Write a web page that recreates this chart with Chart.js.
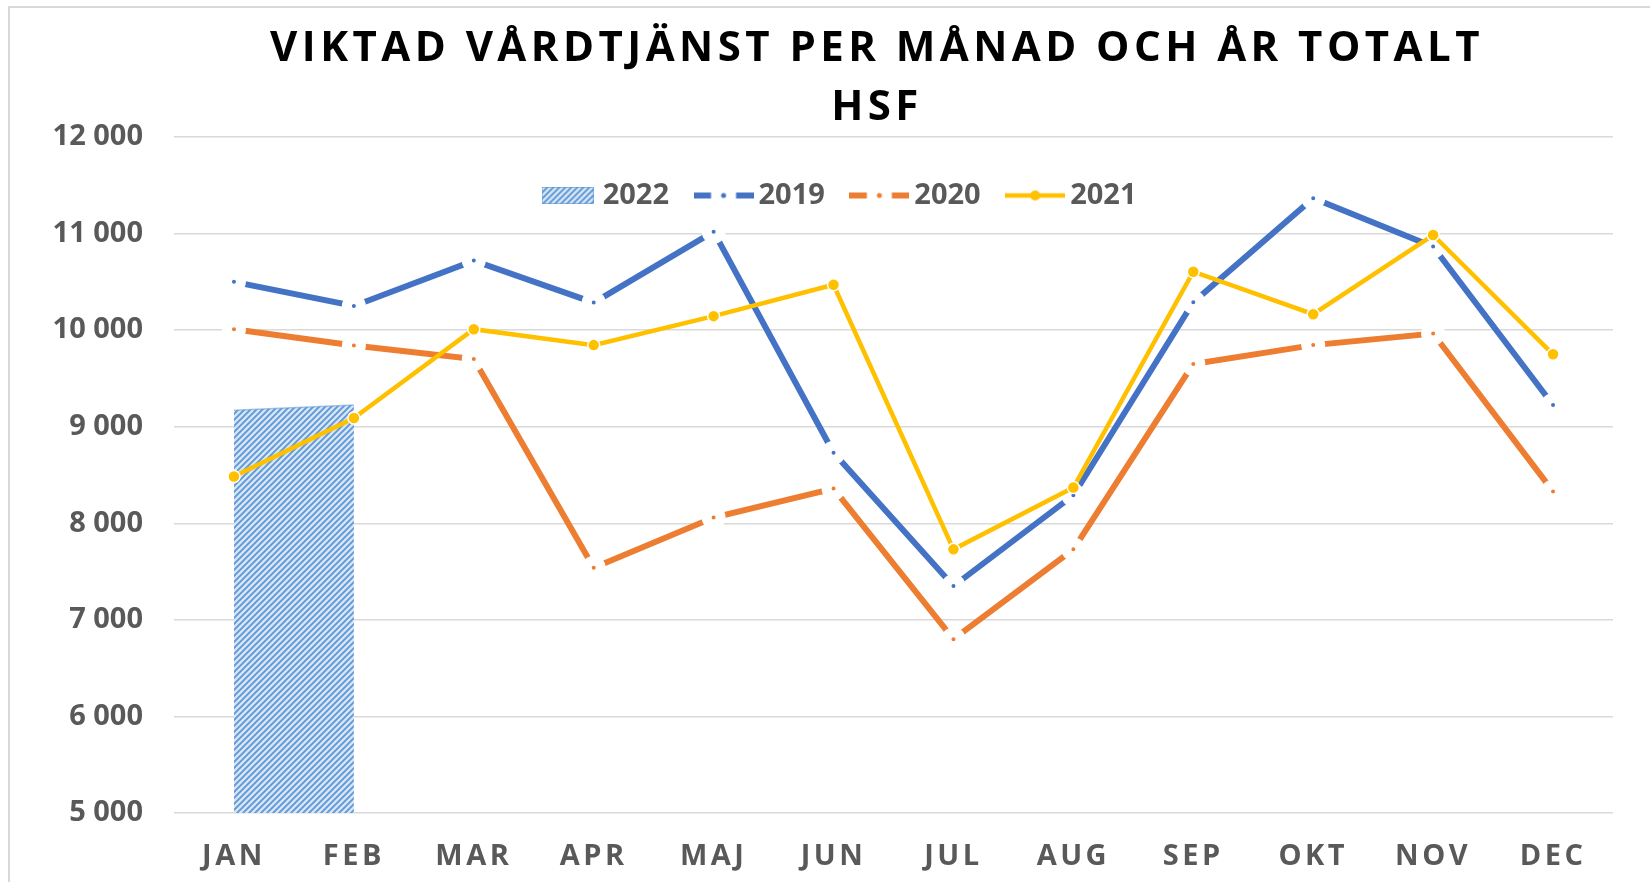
<!DOCTYPE html>
<html><head><meta charset="utf-8">
<script src="https://cdn.jsdelivr.net/npm/chart.js@4.4.1/dist/chart.umd.min.js"></script>
<style>
html,body{margin:0;padding:0;background:#fff;overflow:hidden;}
#wrap{position:relative;width:1650px;height:882px;overflow:hidden;}
#frame{position:absolute;left:8px;top:6px;width:3000px;height:3000px;border-left:2px solid #D9D9D9;border-top:2px solid #D9D9D9;}
canvas{position:absolute;left:0;top:0;}
</style></head><body>
<div id="wrap"><div id="frame"></div><canvas id="c" width="1650" height="882"></canvas></div>
<script>
// ---- data ----
const titleLines = ['VIKTAD VÅRDTJÄNST PER MÅNAD OCH ÅR TOTALT', 'HSF'];
const months = ['JAN','FEB','MAR','APR','MAJ','JUN','JUL','AUG','SEP','OKT','NOV','DEC'];
const seriesNames = ['2022','2019','2020','2021'];
const v2022 = [9170, 9225, null, null, null, null, null, null, null, null, null, null];
const v2019 = [10500, 10250, 10720, 10285, 11020, 8730, 7350, 8290, 10290, 11365, 10865, 9225];
const v2020 = [10010, 9840, 9700, 7540, 8060, 8360, 6800, 7730, 9650, 9845, 9965, 8330];
const v2021 = [8485, 9090, 10010, 9845, 10145, 10470, 7730, 8370, 10605, 10165, 10985, 9750];
const yMin = 5000, yMax = 12000, yStep = 1000;

// ---- styles ----
const FONT = "'Open Sans', 'DejaVu Sans', sans-serif";
const C2019 = '#4472C4', C2020 = '#ED7D31', C2021 = '#FFC000';
const TICK = '#595959';

function hatchFor(g) {
  const t = document.createElement('canvas'); t.width = 6; t.height = 6;
  const h = t.getContext('2d');
  h.fillStyle = '#D5E5F5'; h.fillRect(0,0,6,6);
  h.strokeStyle = '#5F98D6'; h.lineWidth = 1.9;
  h.beginPath(); h.moveTo(0,6); h.lineTo(6,0); h.moveTo(-3,3); h.lineTo(3,-3); h.moveTo(3,9); h.lineTo(9,3); h.stroke();
  return g.createPattern(t, 'repeat');
}
const hatch = hatchFor(document.createElement('canvas').getContext('2d'));

function iconArea() {
  const c = document.createElement('canvas'); c.width = 52; c.height = 17;
  const g = c.getContext('2d');
  g.fillStyle = hatchFor(g); g.fillRect(0,0,52,17);
  g.strokeStyle = 'rgba(91,155,213,0.6)'; g.lineWidth = 1; g.strokeRect(0.5,0.5,51,16);
  return c;
}
function iconDashDot(color) {
  const c = document.createElement('canvas'); c.width = 60; c.height = 20;
  const g = c.getContext('2d');
  g.strokeStyle = color; g.lineWidth = 6; g.lineCap = 'butt';
  g.beginPath(); g.moveTo(0,10); g.lineTo(17.5,10); g.moveTo(42.5,10); g.lineTo(60,10); g.stroke();
  g.fillStyle = color; g.beginPath(); g.arc(30,10,2.5,0,Math.PI*2); g.fill();
  return c;
}
function iconMarkerLine(color) {
  const c = document.createElement('canvas'); c.width = 60; c.height = 14;
  const g = c.getContext('2d');
  g.strokeStyle = color; g.lineWidth = 4.5;
  g.beginPath(); g.moveTo(0,7); g.lineTo(60,7); g.stroke();
  g.fillStyle = color; g.beginPath(); g.arc(30,7,5,0,Math.PI*2); g.fill();
  return c;
}
const legendIcons = [iconArea(), iconDashDot(C2019), iconDashDot(C2020), iconMarkerLine(C2021)];

function fmt(v) { return String(v).replace(/\B(?=(\d{3})+(?!\d))/g, ' '); }

const patcher = {
  id: 'patcher',
  beforeDraw(chart) {
    const tb = chart.titleBlock;
    if (tb && !tb._patched) {
      const orig = tb.draw;
      tb.draw = function(a) {
        const ctx = this.ctx; ctx.save();
        ctx.letterSpacing = '4.45px';
        ctx.translate(877 - (this.left + this.right) / 2, 4);
        orig.call(this, a); ctx.restore();
      };
      tb._patched = true;
    }
    const lg = chart.legend;
    if (lg && !lg._patched) {
      lg.draw = function() {
        const hb = this.legendHitBoxes[0];
        const ctx = this.ctx; ctx.save();
        ctx.translate(547.2 - hb.left, 181 - hb.top);
        this._draw(); ctx.restore();
      };
      lg._patched = true;
    }
    const xs = chart.scales.x;
    if (xs && !xs._patched) {
      const o = xs.drawLabels;
      xs.drawLabels = function(a) {
        const ctx = this.ctx; ctx.save(); ctx.letterSpacing = '3.5px';
        o.call(this, a); ctx.restore();
      };
      xs._patched = true;
    }
  }
};

new Chart(document.getElementById('c'), {
  type: 'line',
  data: {
    labels: months,
    datasets: [
      { label: seriesNames[0], data: v2022, order: 10, fill: 'start', backgroundColor: hatch,
        borderColor: 'rgba(91,155,213,0.55)', borderWidth: 1.5, pointRadius: 0, spanGaps: false, tension: 0 },
      { label: seriesNames[1], data: v2019, order: 3, borderColor: C2019, borderWidth: 6, tension: 0,
        pointRadius: 7, pointBorderWidth: 10, pointBorderColor: '#fff', pointBackgroundColor: C2019, fill: false },
      { label: seriesNames[2], data: v2020, order: 2, borderColor: C2020, borderWidth: 6, tension: 0,
        pointRadius: 7, pointBorderWidth: 10, pointBorderColor: '#fff', pointBackgroundColor: C2020, fill: false },
      { label: seriesNames[3], data: v2021, order: 1, borderColor: C2021, borderWidth: 4.5, tension: 0,
        pointRadius: 6, pointBorderWidth: 1.5, pointBorderColor: '#fff', pointBackgroundColor: C2021, fill: false }
    ]
  },
  options: {
    responsive: false, animation: false, devicePixelRatio: 1,
    layout: { padding: { left: 0, right: 37, top: 0, bottom: 0 } },
    plugins: {
      title: { display: true, text: titleLines, color: '#000',
        font: { family: FONT, size: 42, weight: 'bold', lineHeight: '59px' }, padding: { top: 16, bottom: 2 } },
      legend: { display: true, position: 'top', maxHeight: 1,
        labels: { usePointStyle: true, pointStyleWidth: 41, padding: 34, color: TICK,
          font: { family: FONT, size: 29, weight: 'bold' },
          generateLabels: (chart) => chart.data.datasets.map((ds, i) => ({
            text: ds.label, pointStyle: legendIcons[i], fillStyle: 'transparent', strokeStyle: 'transparent',
            lineWidth: 0, hidden: false, datasetIndex: i, fontColor: TICK })) } },
      tooltip: { enabled: false }
    },
    scales: {
      x: { offset: true, grid: { display: false, drawTicks: false }, border: { display: false },
        ticks: { color: TICK, font: { family: FONT, size: 29, weight: 'bold', lineHeight: 1.2 }, padding: 26,
          maxRotation: 0, autoSkip: false },
        afterFit: (s) => { s.height = 69; } },
      y: { min: yMin, max: yMax, grid: { color: '#D9D9D9', lineWidth: 1.5, drawTicks: false }, border: { display: false },
        ticks: { stepSize: yStep, padding: 31, color: TICK, font: { family: FONT, size: 29, weight: 'bold' },
          callback: (v) => fmt(v) },
        afterFit: (s) => { s.width = 174; } }
    }
  },
  plugins: [patcher]
});
</script>
</body></html>
